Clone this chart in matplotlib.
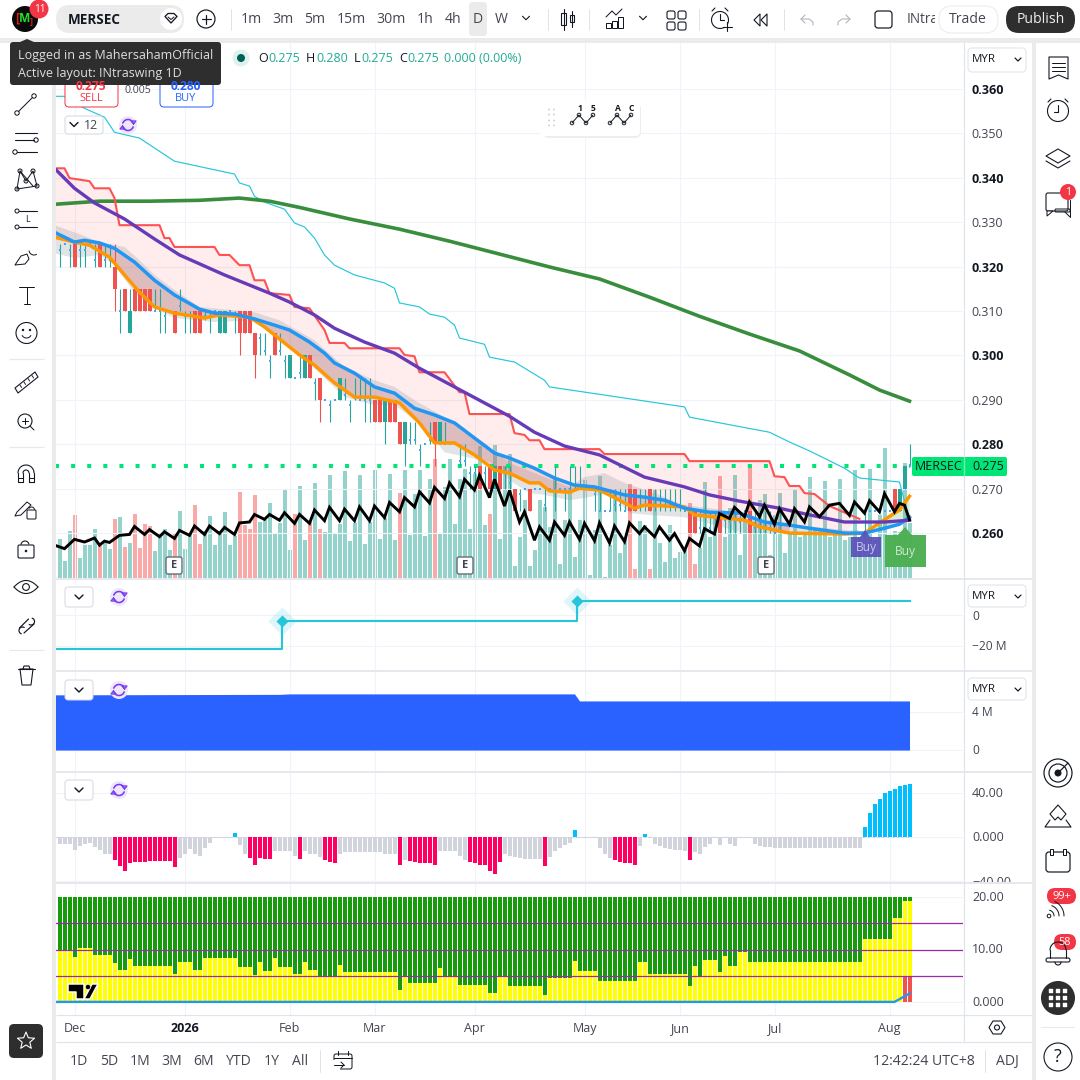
import numpy as np
import matplotlib
matplotlib.use("Agg")
import matplotlib.pyplot as plt
from matplotlib.patches import Circle, Rectangle, FancyBboxPatch, Polygon

plt.rcParams['font.family'] = ['Open Sans', 'Noto Sans', 'DejaVu Sans']

# ---------------- chart data ----------------
symbol = "MERSEC"
last_price = 0.275
price_ticks = [0.36, 0.35, 0.34, 0.33, 0.32, 0.31, 0.30, 0.29, 0.28, 0.27, 0.26]
date_ticks = [3, 25, 46, 63, 83, 105, 124, 143, 166]
date_labels = ["Dec", "2026", "Feb", "Mar", "Apr", "May", "Jun", "Jul", "Aug"]

candle_open = [323.8,325,323.8,325,323.8,323.8,325,321.4,325,321.4,
    321.4,320,310,315,305,315,315,315,315,310,
    310,308.8,310,310,311.1,308.8,308.8,310,310,308.8,
    308.8,310,305,305,310,309.2,310,310,310,305,
    303.8,301,298.7,305,301,298.7,295,295,296.1,295,
    300,293.8,295,290,288.8,290,290,291,288.8,290.3,
    290,290,290,290,290,285,290,290,285,280,
    281,281,278.7,280,281,285,280,280,280,280,
    276.2,276.2,273.6,273.6,275,273.6,275,270,275,273.6,
    271.2,270,268.7,270,270,270,270,266.3,270,270,
    270,270,270,270,270,270,270,268.7,265,265,
    265,266.3,266.3,265,270,270,268.2,268.2,270,266.3,
    266.3,266.3,266.3,266.3,266.3,265,265,265,261.2,265,
    261.2,261.2,265,262.9,262.5,262.5,262.5,265,265,261.2,
    261.2,261.2,261.2,260,261.2,260,260,260,260,260,
    260,260,260,260,260,260,260,260,260,260,
    260,260,265,265,265,265,265,270,265,270,
    275]
candle_high = [325,325,325,325,325,325,325,325,325,325,
    325,325,315,315,315,315,315,315,315,315,
    315,310,310,310,315,310,310,310,310,310,
    310,310,310,310,310,310,310,310,310,305,
    305,305,300,305,305,300,300,295,300,300,
    300,295,295,290,290,290,295,295,290,295,
    295,295,295,290,290,290,290,290,285,285,
    285,285,280,280,285,285,285,285,280,280,
    280,280,275,275,275,275,275,275,275,275,
    275,270,270,270,270,270,270,270,270,275,
    270,270,275,275,275,270,270,270,270,265,
    270,270,270,270,270,270,270,270,270,270,
    270,270,270,270,270,265,265,265,265,270,
    265,265,265,265,265,265,265,265,265,265,
    265,265,265,260,265,260,260,260,260,260,
    260,260,260,260,260,260,260,260,260,260,
    260,265,265,265,265,265,265,270,270,275,
    280]
candle_low = [320,325,320,320,320,320,325,320,320,320,
    320,310,305,310,305,310,310,310,310,310,
    305,305,310,305,310,305,305,305,305,308,
    305,310,305,305,310,305,300,305,305,295,
    300,300,295,300,300,295,295,295,295,295,
    295,290,285,290,285,290,290,290,285,290,
    290,285,285,285,285,280,285,285,280,275,
    280,280,275,280,280,275,280,280,280,280,
    275,275,270,270,270,270,270,270,270,270,
    270,265,265,270,265,270,270,265,270,265,
    270,265,270,270,270,270,270,265,265,265,
    265,265,265,265,265,265,265,265,265,265,
    265,265,265,265,265,265,260,260,260,260,
    260,260,260,260,260,260,260,265,260,260,
    260,260,260,260,260,260,260,260,260,260,
    260,260,260,260,260,260,260,260,260,260,
    260,260,265,265,265,265,265,265,265,270,
    275]
candle_close = [323.8,325,323.8,320,323.8,323.8,325,321.4,320,321.4,
    321.4,315,310,310,310,310,310,310,310,310,
    310,308.8,310,305,311.1,308.8,308.8,305,305,308.8,
    308.8,310,310,310,310,309.2,305,305,305,300,
    303.8,301,298.7,300,301,298.7,300,295,296.1,300,
    295,293.8,290,290,288.8,290,295,291,288.8,290.3,
    290,290,290,285,285,290,285,285,280,285,
    281,281,278.7,280,281,280,285,280,280,280,
    276.2,276.2,273.6,273.6,270,273.6,270,275,270,273.6,
    271.2,265,268.7,270,265,270,270,266.3,270,270,
    270,270,270,270,270,270,270,268.7,265,265,
    265,266.3,266.3,265,265,265,268.2,268.2,265,266.3,
    266.3,266.3,266.3,266.3,266.3,265,260,260,261.2,265,
    261.2,261.2,260,262.9,262.5,262.5,262.5,265,260,261.2,
    261.2,261.2,261.2,260,261.2,260,260,260,260,260,
    260,260,260,260,260,260,260,260,260,260,
    260,260,265,265,265,265,265,265,270,275,
    275]

volume = [39,17,47,63,20,33,33,49,33,36,29,59,61,31,35,64,30,54,52,27,
    44,49,28,45,67,29,44,73,34,47,62,33,47,66,33,42,86,53,49,83,
    56,58,75,44,55,88,28,64,92,38,56,95,49,46,103,45,54,107,37,55,
    103,34,56,108,39,60,104,38,85,108,43,84,108,42,99,119,45,91,119,54,
    99,109,49,104,132,53,64,134,39,112,124,12,41,78,12,28,78,71,51,100,
    14,58,90,21,58,98,3,48,102,1,33,88,25,41,94,9,57,53,9,88,
    35,16,53,20,26,28,75,14,30,96,41,61,102,41,70,103,23,56,113,56,
    78,84,23,63,85,25,45,88,41,45,101,50,48,97,41,46,99,38,41,108,
    41,45,109,38,63,130,43,47,46,115,55]
volume_red_bars = [3,8,11,13,15,16,17,18,23,27,28,36,37,38,39,47,50,52,68,75,86,
                   114,115,118,126,127,132,138]

green_i = [-1,8,18,28,36,42,48,58,68,78,88,98,108,118,128,138,148,158,164,170]
green_v = [.3340,.3347,.3347,.3349,.3354,.3347,.3333,.3307,.3284,.3257,.3228,.3199,
           .3172,.3131,.3088,.3048,.3010,.2956,.2922,.2897]
purple_i = [-1,3,7,13,19,24,33,42,46,51,55,61,67,72,79,90,95,101,108,117,125,130,136,144,150,157,161,165,170]
purple_v = [.3421,.3376,.3343,.3307,.3262,.3226,.3181,.3140,.3120,.3091,.3061,.3030,.3005,.2971,.2929,
            .2863,.2827,.2796,.2776,.2726,.2704,.2686,.2672,.2656,.2641,.2625,.2625,.2625,.2629]
red_i = [-1,1,2,6,7,10,11,12,20,21,22,23,31,32,34,36,38,39,41,42,46,47,50,53,54,57,58,68,69,71,72,77,80,81,82,90,
         91,93,94,96,97,108,109,125,126,142,143,145,146,148,149,151,154,160]
red_v = [.3421,.3421,.3399,.3392,.3376,.3376,.3354,.3293,.3293,.3264,.3264,.3244,.3244,.3226,.3226,.3203,.3203,
         .3169,.3169,.3140,.3136,.3109,.3106,.3057,.3028,.3028,.3016,.3016,.3001,.2998,.2962,.2962,.2917,.2917,
         .2868,.2868,.2825,.2821,.2809,.2809,.2789,.2789,.2778,.2778,.2762,.2762,.2728,.2726,.2706,.2706,.2690,
         .2688,.2661,.2632]
blue_i = [-1,3,5,8,11,15,19,23,28,31,35,39,43,46,50,53,55,59,63,67,71,75,79,83,87,90,95,99,103,107,113,117,121,
          125,130,136,141,146,150,157,161,165,168,170]
blue_v = [.3277,.3255,.3259,.3253,.3241,.3210,.3169,.3136,.3104,.3095,.3093,.3082,.3068,.3057,.3030,.3005,.2983,
          .2960,.2929,.2915,.2881,.2866,.2848,.2814,.2780,.2769,.2746,.2724,.2708,.2704,.2686,.2681,.2674,.2656,
          .2647,.2645,.2625,.2618,.2611,.2600,.2600,.2611,.2620,.2636]
orange_i = [-1,3,6,10,11,13,16,19,23,29,32,38,41,45,48,51,55,59,63,68,72,75,79,83,87,90,94,96,98,102,104,108,112,
            115,117,125,127,137,140,146,157,161,164,168,170]
orange_v = [.3266,.3255,.3248,.3221,.3208,.3181,.3142,.3109,.3095,.3084,.3091,.3086,.3064,.3028,.3001,.2978,.2938,
            .2906,.2906,.2893,.2848,.2803,.2803,.2776,.2742,.2735,.2713,.2713,.2695,.2692,.2701,.2697,.2674,.2656,
            .2663,.2659,.2641,.2629,.2614,.2600,.2598,.2600,.2623,.2652,.2683]
cyan_i = [-1,1,5,9,11,16,23,35,36,38,39,41,45,47,49,51,53,55,59,65,67,68,72,74,77,79,80,85,86,91,97,98,125,126,
          142,146,150,157,160,168,170]
cyan_v = [.3583,.3583,.3556,.3536,.3502,.3489,.3437,.3408,.3388,.3381,.3358,.3345,.3329,.3298,.3289,.3264,.3226,
          .3203,.3181,.3163,.3151,.3118,.3109,.3093,.3086,.3068,.3039,.3025,.2996,.2985,.2944,.2929,.2884,.2861,
          .2827,.2805,.2785,.2746,.2724,.2715,.2629]
band_up_i = [-1,3,8,13,16,19,23,28,39,44,51,57,63,67,71,77,85,90,97,102,105,109,113,119,125,133,138,157,160]
band_up_v = [.3293,.3277,.3255,.3244,.3214,.3181,.3147,.3109,.3097,.3079,.3034,.2974,.2944,.2929,.2899,.2861,.2803,
             .2758,.2726,.2704,.2726,.2735,.2713,.2690,.2663,.2652,.2629,.2607,.2607]
band_lo_i = [-1,3,8,11,15,19,23,31,39,46,52,57,63,67,73,77,86,90,94,97,102,105,110,114,119,125,137,160]
band_lo_v = [.3230,.3219,.3226,.3203,.3140,.3106,.3084,.3075,.3079,.3023,.2960,.2906,.2888,.2888,.2839,.2782,.2760,
             .2719,.2690,.2686,.2674,.2679,.2690,.2645,.2640,.2636,.2600,.2600]
black_i = [-1,1,3,5,7,8,9,10,12,14,15,17,18,20,21,23,24,26,27,29,30,32,33,35,36,38,39,41,42,44,45,47,48,50,51,53,54,
           56,57,59,60,62,63,65,66,68,69,71,72,74,75,77,78,80,81,83,84,86,87,89,90,92,93,95,96,98,99,101,102,104,
           105,107,108,110,111,113,114,116,117,119,120,122,123,125,126,128,129,131,132,134,135,137,138,140,141,143,
           144,146,147,149,150,152,154,156,158,159,161,162,164,165,167,168,169,170]
black_v = [.2573,.2565,.2586,.2580,.2589,.2573,.2582,.2579,.2595,.2597,.2615,.2597,.2608,.2592,.2603,.2588,.2606,.2595,
           .2616,.2597,.2616,.2599,.2613,.2597,.2623,.2625,.2642,.2631,.2642,.2629,.2646,.2622,.2642,.2622,.2652,.2628,
           .2658,.2628,.2654,.2628,.2659,.2628,.2661,.2635,.2669,.2648,.2680,.2659,.2693,.2668,.2703,.2678,.2713,.2682,
           .2721,.2697,.2730,.2680,.2721,.2661,.2696,.2625,.2648,.2584,.2614,.2584,.2625,.2595,.2625,.2586,.2622,.2583,
           .2623,.2578,.2616,.2581,.2623,.2599,.2614,.2592,.2614,.2584,.2599,.2560,.2588,.2571,.2610,.2598,.2644,.2633,
           .2658,.2637,.2670,.2637,.2663,.2620,.2655,.2620,.2655,.2625,.2659,.2637,.2663,.2667,.2640,.2670,.2645,.2673,
           .2648,.2689,.2648,.2667,.2663,.2630]

flow_i = [-1, 44.5, 103.5, 170]
flow_v = [-22, -3.9, 9, 9]
flow_marker_i = [44.5, 103.5]
flow_marker_v = [-3.9, 9]
area_i = [-1, 44, 46, 103, 104, 170]
area_v = [5.8, 5.85, 5.9, 5.9, 5.16, 5.16]

hist_values = [-6,-6,-6,-12,-8,-6,-5,-9,-12,-15,
    -15,-21,-26,-31,-24,-23,-23,-23,-22,-22,
    -22,-22,-22,-27,-19,-15,-11,-15,-17,-10,
    -5,-1,-0.5,-0.5,-0.5,4,-7,-15,-19,-25,
    -19,-20,-20,-13,-13,-13,-13,-17,-20,-13,
    -15,-15,-18,-21,-23,-24,-15,-14,-14,-14,
    -14,-14,-14,-14,-14,-15,-15,-15,-25,-21,
    -22,-23,-24,-24,-24,-25,-13,-13,-13,-13,
    -17,-21,-23,-24,-25,-25,-31,-34,-23,-15,
    -17,-18,-19,-20,-20,-20,-20,-26,-18,-13,
    -10,-7,-5,6,-0.5,-0.5,-0.5,-0.5,-10,-15,
    -19,-21,-23,-24,-24,-25,-8,3,-0.5,-6,
    -8,-10,-11,-12,-12,-13,-21,-14,-15,-9,
    -6,-0.5,-7,-0.5,-6,-8,-0.5,-0.5,-0.5,-6,
    -8,-9,-9,-10,-10,-10,-10,-10,-10,-10,
    -10,-10,-10,-10,-10,-10,-10,-10,-10,-10,
    -10,9,22,30,35,40,42,44,46,47,
    48]
hist_pink = [11,12,13,14,15,16,17,18,19,20,21,22,23,38,39,40,41,42,48,53,54,55,68,70,71,72,73,74,75,
             82,83,84,85,86,87,88,97,111,112,113,114,115,126]

green_top = 20
yellow_values = [9.9,9.9,9.9,8.5,10.2,10.2,10.2,8.9,8.9,8.9,
    8.9,7.4,6.1,6.1,8.2,6.8,6.8,6.8,6.8,6.8,
    6.8,6.8,6.8,5.3,7.6,7.6,7.6,6.1,6.1,8.3,
    8.3,8.3,8.3,8.3,8.3,8.3,6.6,6.6,6.6,5.1,
    7.6,5.9,5.9,8.3,6.6,6.6,6.6,5.3,5.3,7.6,
    6.1,6.1,4.9,4.9,4.9,4.9,7.0,5.7,5.7,5.7,
    5.7,5.7,5.7,5.7,5.7,5.7,5.7,5.7,2.2,4.9,
    3.6,3.6,3.6,3.6,3.6,3.6,6.4,4.7,4.7,4.7,
    3.2,3.2,3.2,3.2,3.2,3.2,1.7,1.7,4.7,4.7,
    3.0,3.0,3.0,3.0,3.0,3.0,3.0,1.3,4.5,4.5,
    4.5,4.5,4.5,7.8,5.9,5.9,5.9,5.9,3.9,3.9,
    3.9,3.9,3.9,3.9,3.9,3.9,7.6,7.6,5.3,5.3,
    5.3,5.3,5.3,5.3,5.3,5.3,3.0,6.8,4.7,8.0,
    8.0,8.0,5.7,8.7,6.8,6.8,9.5,9.5,7.6,7.6,
    7.6,7.6,7.6,7.6,7.6,7.6,7.6,7.6,7.6,7.6,
    7.6,7.6,7.6,7.6,7.6,7.6,7.6,7.6,7.6,7.6,
    7.6,12,12,12,12,12,12,16,16,19.2,
    19.2]
red_end_i = [169, 170]
red_end_v = [5, 5]
base_i = [-1, 167, 170]
base_v = [0, 0, 1.6]
levels = [15, 10, 5]

# ---------------- figure ----------------
W, H = 1080, 1080
fig = plt.figure(figsize=(W/100, H/100), dpi=100, facecolor='white')
GRID = '#f0f3fa'
TXT = '#131722'
SUB = '#434651'
X0, X1 = 56, 963
XLIM = ((X0-59.5)/5, (X1-59.5)/5)

def pane(y0, y1, ylim):
    a = fig.add_axes([X0/W, 1-y1/H, (X1-X0)/W, (y1-y0)/H])
    a.set_xlim(*XLIM); a.set_ylim(*ylim)
    for s in a.spines.values():
        s.set_visible(False)
    a.set_xticks(date_ticks); a.set_xticklabels([])
    a.tick_params(length=0)
    a.grid(True, color=GRID, lw=0.8)
    a.set_axisbelow(True)
    a.yaxis.tick_right()
    return a

# main pane
ax = pane(43, 578, (0.2499, 0.3703))
vol_ax = ax.twinx()
vol_ax.set_xlim(*XLIM); vol_ax.set_ylim(0, 535)
vol_ax.axis('off')
vol_ax.set_zorder(0); ax.set_zorder(1); ax.patch.set_visible(False)
ax.yaxis.tick_right()
ax.set_yticks(price_ticks)
ax.set_yticklabels([f"{p:.3f}" for p in price_ticks], fontsize=9, color=SUB)
ax.tick_params(axis='y', pad=6, length=0, right=False, left=False, labelright=True, labelleft=False)
for lab, p in zip(ax.get_yticklabels(), price_ticks):
    lab.set_verticalalignment('center_baseline')
    if round(p*1000) in (360, 340, 320, 300, 280, 260):
        lab.set_fontweight('bold'); lab.set_color(TXT)

idx = np.arange(len(volume))
vcol = ['#f9a9a7' if i in volume_red_bars else '#94d3cb' for i in idx]
vol_ax.bar(idx, volume, width=0.8, color=vcol, lw=0)

def poly(a, xs1, ys1, xs2, ys2, **kw):
    a.fill(list(xs1)+list(xs2)[::-1], list(ys1)+list(ys2)[::-1], lw=0, **kw)

n_p = blue_i.index(161)
poly(ax, red_i, red_v, blue_i[:n_p], blue_v[:n_p], color='#ff5252', alpha=0.11, zorder=1)
poly(ax, band_up_i, band_up_v, band_lo_i, band_lo_v, color='#9598a1', alpha=0.27, zorder=1.2)
n_b, n_o = blue_i.index(146), orange_i.index(146)
poly(ax, orange_i[:n_o+1], orange_v[:n_o+1], blue_i[:n_b+1], blue_v[:n_b+1], color='#d04a4a', alpha=0.25, zorder=1.3)
m_b, m_o = blue_i.index(161), orange_i.index(161)
poly(ax, orange_i[m_o:], orange_v[m_o:], blue_i[m_b:], blue_v[m_b:], color='#4caf50', alpha=0.22, zorder=1.3)

# level dots
ax.plot([-1, 170], [last_price, last_price], color='#00e676', lw=2.9, ls=(0, (1, 3)), zorder=2, solid_capstyle='butt')

# candles
o, h, l, c = [np.array(v)/1000 for v in (candle_open, candle_high, candle_low, candle_close)]
TEAL, RED = '#26a69a', '#ef5350'
ccol = np.where(c > o, TEAL, np.where(c < o, RED, TEAL))
ax.vlines(idx, l, h, colors=ccol, lw=0.8, zorder=3)
body = c != o
ax.bar(idx[body], np.abs(c-o)[body], bottom=np.minimum(c, o)[body], width=0.8, color=ccol[body], lw=0, zorder=3)
ax.scatter(idx[~body], c[~body], marker='s', s=4.5, color='#42a5f5', lw=0, zorder=3)

# lines
ax.plot(cyan_i, cyan_v, color='#26c6da', lw=0.85, zorder=4)
ax.plot(green_i, green_v, color='#388e3c', lw=2.6, zorder=4)
ax.plot(red_i, red_v, color='#ff5252', lw=1.5, zorder=4)
ax.plot(orange_i, orange_v, color='#ff9800', lw=2.5, zorder=5)
ax.plot(blue_i, blue_v, color='#2196f3', lw=2.5, zorder=5.2)
ax.plot(purple_i, purple_v, color='#673ab7', lw=2.4, zorder=5.4)
ax.plot(black_i, black_v, color='#000000', lw=2.1, zorder=6, solid_joinstyle='miter')

# pane 2
ax2 = pane(580, 670, (-35.5, 22.6))
ax2.set_yticks([0, -20]); ax2.set_yticklabels([])
ax2.plot(flow_i, flow_v, color='#26c6da', lw=1.5, drawstyle='steps-post', zorder=3)
ax2.scatter(flow_marker_i, flow_marker_v, marker='D', s=210, color='#26c6da', alpha=0.15, lw=0, zorder=2)
ax2.scatter(flow_marker_i, flow_marker_v, marker='D', s=38, color='#26c6da', lw=0, zorder=4)

# pane 3
ax3 = pane(672, 771, (-2.2, 8.2))
ax3.set_yticks([0, 4]); ax3.set_yticklabels([])
ax3.fill_between(area_i, 0, area_v, color='#2962ff', lw=0, zorder=3)

# pane 4
ax4 = pane(773, 882, (-40.9, 58.2))
ax4.set_yticks([40, 0, -40]); ax4.set_yticklabels([])
hcol = ['#00bfff' if v > 0 else ('#ff0062' if i in hist_pink else '#d1d4dc') for i, v in enumerate(hist_values)]
ax4.bar(idx, hist_values, width=0.8, color=hcol, lw=0, zorder=3)
ax4.plot([-1, 170], [0, 0], color='#d1d4dc', lw=0.7, ls=(0, (3, 2)), zorder=2)

# pane 5
ax5 = pane(884, 1015, (-2.5, 22.5))
ax5.set_yticks([20, 10, 0]); ax5.set_yticklabels([])
ax5.bar(idx, [green_top]*len(idx), width=0.8, color='#179a0c', lw=0, zorder=2)
ax5.bar(idx, yellow_values, width=0.8, color='#ffff00', lw=0, zorder=2.2)
ax5.bar(red_end_i, red_end_v, width=0.8, color='#ef5350', lw=0, zorder=2.4)
for lv in levels:
    ax5.axhline(lv, color='#9c27b0', lw=0.9, zorder=3)
ax5.plot(base_i, base_v, color='#2196f3', lw=1.7, zorder=3.5)
ax5.set_xticklabels(date_labels, fontsize=9, color=SUB)
ax5.tick_params(axis='x', pad=4.8)
for lab, t in zip(ax5.get_xticklabels(), date_labels):
    if t == "2026":
        lab.set_fontweight('bold'); lab.set_color(TXT)

# ---------------- interface layer ----------------
ui = fig.add_axes([0, 0, 1, 1], zorder=10)
ui.set_xlim(0, W); ui.set_ylim(H, 0); ui.axis('off'); ui.patch.set_alpha(0)
INK = '#131722'

def T(x, y, s, px=13, c=INK, ha='center', w='normal', **k):
    return ui.text(x, y+0.5, s, fontsize=px*.72, color=c, ha=ha, va='center', fontweight=w, **k)
def L(xs, ys, c=INK, lw=1.0, **k):
    k.setdefault('solid_capstyle', 'round')
    ui.plot(xs, ys, color=c, lw=lw*.72, **k)
def C(x, y, r, fc='none', ec=INK, lw=1.0, **k):
    ui.add_patch(Circle((x, y), r, fc=fc, ec=ec, lw=lw*.72, **k))
def R(x0, y0, x1, y1, fc='white', ec='none', r=0, lw=1.0, **k):
    if r:
        ui.add_patch(FancyBboxPatch((x0, y0), x1-x0, y1-y0, boxstyle=f"round,pad=0,rounding_size={r}",
                                    fc=fc, ec=ec, lw=lw*.72, **k))
    else:
        ui.add_patch(Rectangle((x0, y0), x1-x0, y1-y0, fc=fc, ec=ec, lw=lw*.72, **k))
def ARC(cx, cy, r, a0, a1, **k):
    t = np.radians(np.linspace(a0, a1, 40))
    L(cx+r*np.cos(t), cy-r*np.sin(t), **k)
def P(pts, **k):
    k.setdefault('fc', 'none'); k.setdefault('ec', INK)
    lw = k.pop('lw', 1.0)
    ui.add_patch(Polygon(pts, closed=True, lw=lw*.72, joinstyle='round', **k))

# frame
R(0, 38, W, 42.5, fc='#ebebeb')
R(52, 38, 55.5, H, fc='#ebebeb')
R(1032, 38, 1036, H, fc='#ebebeb')
for y in (579, 671, 772, 883, 1015, 1041.5):
    L([56, 1032], [y, y], c='#e0e3eb', lw=1.6 if y in (671, 772, 883, 579) else 1.2, solid_capstyle='butt')
L([963.5, 963.5], [43, 1041], c='#e0e3eb', lw=1.2)

# price tag
R(912, 457, 1007, 476, fc='#00e676', r=2)
L([963.5, 963.5], [457, 476], c='#7be9b2', lw=1)
T(915, 466.5, symbol, 12.5, ha='left')
T(972, 466.5, f"{last_price:.3f}", 12.5, ha='left')

# right-hand axis labels of the small panes
T(972, 616, "0", 12, SUB, ha='left')
R(968, 585, 1026, 607, fc='white', ec='#e0e3eb', r=4)
T(972, 596, "MYR", 11.5, ha='left'); L([1015, 1018, 1021], [595, 598, 595], lw=1.2)
T(972, 646, "\u221220 M", 12, SUB, ha='left')
R(968, 678, 1026, 700, fc='white', ec='#e0e3eb', r=4)
T(972, 689, "MYR", 11.5, ha='left'); L([1015, 1018, 1021], [688, 691, 688], lw=1.2)
T(972, 712, "4 M", 12, SUB, ha='left')
T(972, 750, "0", 12, SUB, ha='left')
T(972, 793, "40.00", 12.5, SUB, ha='left')
T(972, 837, "0.000", 12.5, SUB, ha='left')
t = T(972, 881.5, "\u221240.00", 12.5, SUB, ha='left')
t.set_clip_on(True)
t.set_clip_path(Rectangle((964, 870), 68, 12, transform=ui.transData))
T(972, 897, "20.00", 12.5, SUB, ha='left')
T(972, 949, "10.00", 12.5, SUB, ha='left')
T(972, 1002, "0.000", 12.5, SUB, ha='left')
R(968, 48, 1026, 72, fc='white', ec='#e0e3eb', r=4)
T(972, 59, "MYR", 11.5, ha='left'); L([1015, 1018, 1021], [58, 61, 58], lw=1.2)

# E markers
for ex in (174, 465, 766):
    R(ex-8, 557, ex+8, 574, fc='white', ec='#6a6d78', r=2, lw=1.4)
    T(ex, 565, "E", 11, '#434651', w='bold')

# buy labels
P([(851, 537), (860, 537), (865, 530), (870, 537), (881, 537), (881, 557), (851, 557)], fc='#5a50b8', ec='none', alpha=0.92, lw=0)
T(866, 547, "Buy", 12, '#c9c6ee')
P([(885, 535), (898, 535), (905, 527), (912, 535), (926, 535), (926, 567), (885, 567)], fc='#4caf50', ec='none', alpha=0.97, lw=0)
T(905.5, 551, "Buy", 12, '#cfe9d0')

# TradingView mark
P([(68, 984), (84, 984), (84, 999), (76, 999), (76, 992), (68, 992)], fc='black', ec='white', lw=1.5)
P([(92, 984), (98, 984), (90, 999), (84, 999)], fc='black', ec='white', lw=1.5)
C(88, 987, 2.6, fc='black', ec='white', lw=0.6)

# pane buttons
def sync(x, y):
    C(x, y, 9, fc='#ece7fb', ec='none')
    ARC(x, y, 5.5, 20, 160, c='#7c3aed', lw=1.6)
    ARC(x, y, 5.5, 200, 340, c='#7c3aed', lw=1.6)
    L([x+5.5, x+3, x+8, x+5.5], [y-1, y-4, y-4, y-1], c='#7c3aed', lw=1.3)
    L([x-5.5, x-3, x-8, x-5.5], [y+1, y+4, y+4, y+1], c='#7c3aed', lw=1.3)
def chev(x, y, s=4, c=INK, lw=1.4):
    L([x-s, x, x+s], [y-s/2, y+s/2, y-s/2], c=c, lw=lw)
for y0 in (587, 680, 780):
    R(65, y0, 93, y0+20, fc='white', ec='#d7d9df', r=3)
    chev(79, y0+10)
    sync(119, y0+10)
R(65, 116, 103, 134, fc='white', ec='#d7d9df', r=3)
chev(74, 124.5); T(91, 125, "12", 12.5, SUB)
sync(128, 125)

# legend row
C(241, 58, 8.5, fc='#dff1ee', ec='none'); C(241, 58, 4, fc='#006054', ec='none')
LT = '#22ab94'
for x, k, v in ((258, "O", "0.275"), (306, "H", "0.280"), (354, "L", "0.275"), (399, "C", "0.275")):
    T(x, 58.5, k, 12.5, INK, ha='left')
    T(x+(10.5 if k in "OH" else 7 if k == "L" else 8.5), 58.5, v, 12.5, LT, ha='left')
T(444, 58.5, "0.000 (0.00%)", 12.5, LT, ha='left')

# sell / buy boxes
R(65, 62, 118, 107, fc='white', ec='#f23645', r=4)
T(91, 86, "0.275", 12, '#f23645', w='bold'); T(91, 98, "SELL", 11, '#f23645')
T(138, 90, "0.005", 10.5, SUB)
R(160, 62, 213, 107, fc='white', ec='#2962ff', r=4)
T(186, 86, "0.280", 12, '#2962ff', w='bold'); T(186, 98, "BUY", 11, '#2962ff')

# top bar
C(25, 19, 13, fc='#0a0a0a', ec='none')
T(25, 18, "M", 12, '#22e02a', w='bold')
T(17, 18, "[", 12, '#e01b1b', w='bold'); T(31.5, 21, "]", 9, '#e01b1b', w='bold')
C(39, 9, 9.5, fc='#f23645', ec='none'); T(40, 8.5, "11", 10, 'white')
R(56, 5, 184, 33, fc='#ebebeb', r=14)
T(68, 19, symbol, 13.5, ha='left', w='bold')
C(171, 19, 11, fc='white', ec='none')
P([(165, 16.5), (168, 13.5), (174, 13.5), (177, 16.5), (171, 23)], lw=1.3)
L([168, 171, 174], [17, 19.5, 17], lw=1)
C(206, 19, 9, lw=1.2); L([201.5, 210.5], [19, 19], lw=1.2); L([206, 206], [14.5, 23.5], lw=1.2)
L([230.5, 230.5], [9, 30], c='#e0e3eb', lw=1)
R(469, 2, 487, 36, fc='#ebebeb', r=4)
for x, s in ((251, "1m"), (283, "3m"), (315, "5m"), (351, "15m"), (391, "30m"), (425, "1h"), (453, "4h"), (478, "D"), (501, "W")):
    T(x, 19, s, 14, SUB)
chev(526, 18, 3.5, lw=1.1)
L([547.5, 547.5], [9, 30], c='#e0e3eb', lw=1)
# bar style
R(561, 13, 566, 25, fc='none', ec=INK, lw=1.1); L([563.5, 563.5], [9, 30], lw=1.1)
R(570, 15, 574, 22, fc='none', ec=INK, lw=1.1); L([572, 572], [11, 27], lw=1.1)
L([589, 589], [9, 30], c='#e0e3eb', lw=1)
# indicators
L([606, 612, 616, 622], [17, 11, 15, 9], lw=1)
for x0, y0 in ((606, 23), (612, 21), (618, 17)):
    R(x0, y0, x0+5, 28, fc='none', ec=INK, lw=1)
chev(643, 18, 3.5, lw=1.1)
for dx, dy in ((0, 0), (11, 0), (0, 11), (11, 11)):
    R(667+dx, 11+dy, 675+dx, 19+dy, fc='none', ec=INK, r=2, lw=1.1)
L([698.5, 698.5], [9, 30], c='#e0e3eb', lw=1)
# alarm
ARC(720, 20, 8.5, -30, 300, lw=1.1); L([720, 720, 724], [14, 20, 20], lw=1.1)
L([712, 715], [11, 8], lw=1.1); L([728, 725], [11, 8], lw=1.1)
L([727, 727], [22, 31], lw=1.1); L([722.5, 731.5], [26.5, 26.5], lw=1.1)
P([(760, 14), (754, 20), (760, 26)], lw=1.1); P([(767, 14), (761, 20), (767, 26)], lw=1.1)
L([784, 784], [9, 30], c='#e0e3eb', lw=1)
GR = '#b2b5be'
L([805, 801, 805], [15, 19, 23], c=GR, lw=1.1); L([801, 809, 813, 813], [19, 19, 22, 25], c=GR, lw=1.1)
L([846, 850, 846], [15, 19, 23], c=GR, lw=1.1); L([850, 842, 838, 838], [19, 19, 22, 25], c=GR, lw=1.1)
R(875, 11, 892, 28, fc='none', ec=INK, r=3, lw=1.2)
t = T(907, 19, "INtra", 13.5, SUB, ha='left')
t.set_clip_on(True)
t.set_clip_path(Rectangle((900, 0), 35, 38, transform=ui.transData))
R(939, 6, 998, 33, fc='white', ec='#ebebeb', r=13)
T(968, 19, "Trade", 14, SUB)
R(1006, 6, 1075, 33, fc='#2e2e2e', r=13)
T(1040.5, 19, "Publish", 14, '#eeeeee')

# tooltip
P([(20, 42), (27, 39), (34, 42)], fc='#2e2e2e', ec='none', lw=0)
R(10, 42, 221, 85, fc='#2e2e2e', r=3)
T(18, 55, "Logged in as MahersahamOfficial", 12.5, '#dedede', ha='left')
T(18, 73, "Active layout: INtraswing 1D", 12.5, '#dedede', ha='left')

# drawing toolbar (left)
C(17, 113, 2.2, fc='white'); C(34, 96, 2.2, fc='white'); L([18.5, 32.5], [111.5, 97.5])
L([15, 37], [133, 133], lw=1.1); L([15, 34], [140, 140], lw=1.1); L([17, 37], [152, 152], lw=1.1)
C(36, 140, 2.2, fc='white'); C(15, 152, 2.2, fc='white')
pts = [(17, 189), (20, 171), (26, 181), (33, 171), (37, 186)]
L([p[0] for p in pts], [p[1] for p in pts]); L([17, 37], [189, 186]); L([20, 33], [171, 186])
for p in pts:
    C(p[0], p[1], 2, fc='white')
L([19, 37], [211, 211], lw=1.1); L([19, 37], [227, 227], lw=1.1)
C(17, 211, 2, fc='white'); C(17, 227, 2, fc='white'); T(27, 219, "L", 9)
P([(15, 265), (21, 256), (27, 254), (29, 259), (25, 264)], lw=1)
ARC(34, 250, 5, 300, 190, lw=1)
L([19, 34], [287, 287]); L([27, 27], [287, 304]); L([24, 30], [304, 304])
C(26.5, 333, 10.5, lw=1.1); C(23, 330, 0.7, fc=INK, ec=INK); C(30, 330, 0.7, fc=INK, ec=INK); ARC(26.5, 333, 5, 210, 330)
L([9, 44], [359, 359], c='#e8e8e8', lw=1.2, solid_capstyle='butt')
P([(15, 388), (35, 372), (38, 377), (18, 393)], lw=1.1)
for x, y in ((20, 385), (24, 382), (28, 378.5), (32, 375.5)):
    L([x, x+1.6], [y, y+2.5], lw=0.9)
C(25, 421, 7, lw=1.1); L([22, 28], [421, 421]); L([25, 25], [418, 424]); L([30, 34], [426, 430])
L([9, 44], [447, 447], c='#e8e8e8', lw=1.2, solid_capstyle='butt')
ARC(26, 473, 8, 0, 180, lw=1.1); ARC(26, 473, 3, 0, 180, lw=1.1)
L([18, 18, 23, 23], [473, 482, 482, 473], lw=1.1); L([29, 29, 34, 34], [473, 482, 482, 473], lw=1.1)
L([18, 23], [478, 478], lw=1); L([29, 34], [478, 478], lw=1)
P([(15, 516), (17, 512), (27, 502), (31, 505), (21, 515)], lw=1)
R(27, 510, 36, 519, fc='white', ec=INK, r=1); ARC(31.5, 510, 3, 10, 150, lw=1)
R(18, 545, 34, 558, fc='white', ec=INK, r=1.5, lw=1.1); ARC(25, 545, 4, 15, 170, lw=1.1); C(26, 551, 0.8, fc=INK)
ex_ = np.linspace(-12, 12, 30)
L(26+ex_, 587-6.5*(1-(ex_/12)**2), lw=1.1); L(26+ex_, 587+6.5*(1-(ex_/12)**2), lw=1.1); C(26, 587, 3.4, lw=1.1)
ARC(22.5, 630.5, 3.5, 60, 250, lw=1.2); ARC(31, 621.5, 3.5, -120, 70, lw=1.2); L([24, 34], [633, 624], lw=1.2); L([19.5, 28.5], [628, 619], lw=1.2)
L([9, 44], [650, 650], c='#e8e8e8', lw=1.2, solid_capstyle='butt')
L([18, 35], [669, 669], lw=1.1); P([(20, 669), (22, 685), (31, 685), (33, 669)], lw=1.1); L([23, 24, 29, 30], [669, 666, 666, 669], lw=1.1)
R(9, 1024, 43, 1058, fc='#2e2e2e', r=5)
star = [(26+(9 if k % 2 == 0 else 4)*np.sin(np.radians(36*k)), 1041-(9 if k % 2 == 0 else 4)*np.cos(np.radians(36*k))) for k in range(10)]
P(star, ec='white', lw=1.1)

# floating toolbar
R(543, 103, 641, 138, fc='#eeeeee', r=6)
R(540, 100, 640, 136, fc='white', r=5)
for dx in (0, 5):
    for dy in (-8, -3, 3, 8):
        C(549+dx, 117.5+dy, 0.9, fc='#c9cbd1', ec='none')
for cx, a, b in ((583, "1", "5"), (621, "A", "C")):
    xs = [cx-11, cx-4, cx+3, cx+10]; ys = [123, 115, 123, 115]
    L(xs, ys, lw=1)
    for xx, yy in zip(xs, ys):
        C(xx, yy, 1.8, fc='white', lw=0.9)
    T(cx-3, 108, a, 8.5, w='bold'); T(cx+10, 108, b, 8.5, w='bold')

# right toolbar
RX = 1058
P([(1049, 57), (1068, 57), (1068, 79), (1058.5, 75), (1049, 79)], lw=1.1)
for y in (63, 67, 71):
    L([1052, 1065], [y, y], lw=1)
C(RX, 111, 10.5, lw=1.1); L([RX, RX, RX-4], [105, 112, 112], lw=1.1)
L([1048, 1051], [102, 99], lw=1.1); L([1068, 1065], [102, 99], lw=1.1)
P([(RX-12, 156), (RX, 149), (RX+12, 156), (RX, 163)], lw=1.1); L([RX-12, RX, RX+12], [161, 168, 161], lw=1.1)
R(1046, 193, 1068, 211, fc='white', ec=INK, r=2, lw=1.1)
P([(1047, 211), (1047, 216), (1053, 211)], fc='white', lw=1)
R(1055, 209, 1070, 212, fc='none', ec=INK, r=1, lw=1); L([1070, 1070], [200, 217], lw=1); L([1065, 1070], [212, 217], lw=1)
C(1068, 192, 8, fc='#f23645', ec='none'); T(1068, 192, "1", 10.5, 'white')
C(RX, 773, 14, lw=1.2); C(RX, 773, 9, lw=1.2); C(RX, 773, 3, fc=INK); L([RX, RX+10], [773, 763], lw=1.2)
P([(RX, 805), (RX+8, 814), (RX+3, 820), (RX, 817), (RX-3, 820), (RX-8, 814)], lw=1.1)
L([RX-8, RX-13, RX+13, RX+8], [820, 827, 827, 820], lw=1.1)
R(RX-12, 852, RX+12, 872, fc='white', ec=INK, r=3, lw=1.2)
R(RX-8, 849, RX-5, 855, fc='white', ec=INK, lw=1); R(RX+5, 849, RX+8, 855, fc='white', ec=INK, lw=1)
C(RX-9, 916, 1.8, lw=1); ARC(RX-10, 916, 6, 0, 75, lw=1); ARC(RX-10, 916, 11, 0, 70, lw=1); ARC(RX-10, 916, 16, 0, 65, lw=1)
R(1047, 888, 1076, 904, fc='#f23645', r=8); T(1061.5, 896, "99+", 11, 'white')
ARC(RX, 950, 8, 0, 180, lw=1.1); L([RX-8, RX-8], [950, 958], lw=1.1); L([RX+8, RX+8], [950, 958], lw=1.1)
R(RX-12, 958, RX+12, 962, fc='white', ec=INK, r=2, lw=1.1); ARC(RX, 962, 3, 180, 360, lw=1.1)
R(1054, 934, 1076, 950, fc='#f23645', r=8); T(1065, 942, "58", 11, 'white')
C(RX, 998, 17, fc='#2e2e2e', ec='none')
for dx in (-7, 0, 7):
    for dy in (-7, 0, 7):
        R(RX+dx-2.2, 998+dy-2.2, RX+dx+2.2, 998+dy+2.2, fc='white', r=0.6)
L([1041, 1074], [1027, 1027], c='#e8e8e8', lw=1)
C(RX, 1057, 14, lw=1.1); T(RX, 1056, "?", 18, INK)

# bottom bar
for x, s in ((79, "1D"), (109, "5D"), (140, "1M"), (172, "3M"), (204, "6M"), (239, "YTD"), (272, "1Y"), (300, "All")):
    T(x, 1061, s, 14, SUB)
L([319.5, 319.5], [1050, 1072], c='#e0e3eb', lw=1)
R(334, 1054, 352, 1069, fc='none', ec=INK, r=2, lw=1.0)
L([334, 352], [1058, 1058], lw=1); L([338, 338], [1051, 1055], lw=1); L([348, 348], [1051, 1055], lw=1)
R(332, 1060, 340, 1070, fc='white', ec='none')
L([334, 344], [1065, 1065], lw=1); L([341, 344, 341], [1062, 1065, 1068], lw=1)
T(924, 1061, "12:42:24 UTC+8", 14, SUB)
L([984.5, 984.5], [1050, 1072], c='#e0e3eb', lw=1)
T(1007, 1061, "ADJ", 14, SUB)
hexp = [(997+8*np.cos(np.radians(a)), 1027.5+7.5*np.sin(np.radians(a))) for a in (0, 60, 120, 180, 240, 300)]
P(hexp, lw=1.1); C(997, 1027.5, 2.5, lw=1.1)

fig.savefig("out.png", dpi=100)
